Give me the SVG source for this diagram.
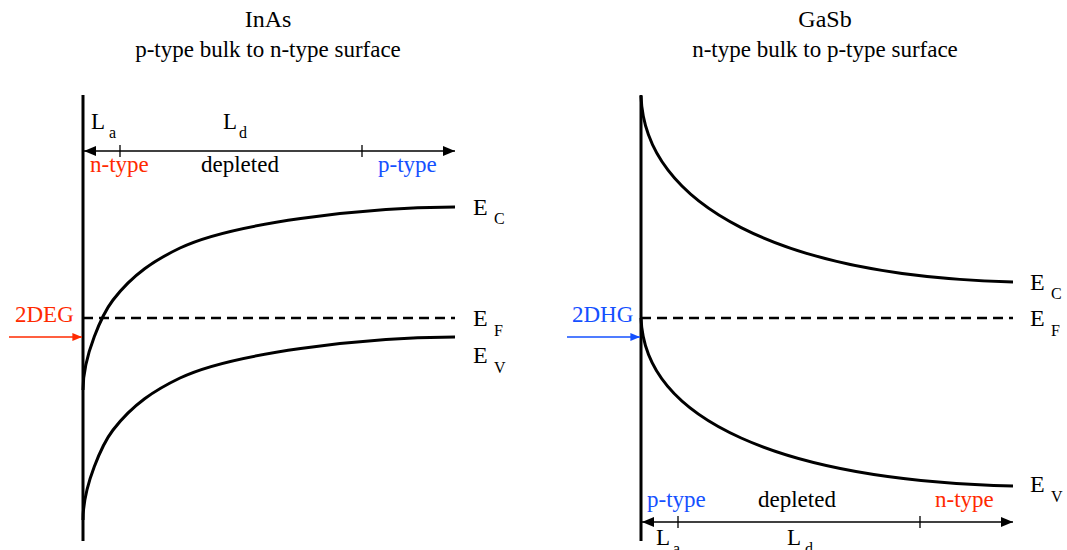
<svg xmlns="http://www.w3.org/2000/svg" width="1067" height="550" viewBox="0 0 1067 550" font-family="'Liberation Serif', 'DejaVu Serif', 'Times New Roman', serif">
<defs>
<style>
text{font-family:'Liberation Serif','DejaVu Serif','Times New Roman',serif;fill:#000}
.t{font-size:24px;text-anchor:middle}
.st{font-size:23px;text-anchor:middle}
.lb{font-size:23px}
.E{font-size:24px}
.sub{font-size:16px}
.red{fill:#ff2a00}
.blue{fill:#1450ff}
.axis{stroke:#000;stroke-width:3;fill:none}
.band{stroke:#000;stroke-width:3;fill:none}
.ef{stroke:#000;stroke-width:2.5;stroke-dasharray:10,6;fill:none}
.dim{stroke:#000;stroke-width:1.3;fill:none;marker-start:url(#ah);marker-end:url(#ah)}
.tick{stroke:#000;stroke-width:1.3}
</style>
<marker id="ah" viewBox="0 0 12 10" refX="12" refY="5" markerWidth="12" markerHeight="10" markerUnits="userSpaceOnUse" orient="auto-start-reverse"><path d="M0,0L12,5L0,10z" fill="#000"/></marker>
<marker id="ahr" viewBox="0 0 12 10" refX="12" refY="5" markerWidth="12" markerHeight="8" markerUnits="userSpaceOnUse" orient="auto"><path d="M0,0L12,5L0,10z" fill="#ff2a00"/></marker>
<marker id="ahb" viewBox="0 0 12 10" refX="12" refY="5" markerWidth="12" markerHeight="8" markerUnits="userSpaceOnUse" orient="auto"><path d="M0,0L12,5L0,10z" fill="#1450ff"/></marker>
</defs>
<rect width="1067" height="550" fill="#fff"/>

<g id="inas">
<text class="t" x="268" y="27">InAs</text>
<text class="st" x="268" y="57">p-type bulk to n-type surface</text>
<line class="axis" x1="83" y1="95" x2="83" y2="541"/>
<path class="band" d="M83,390 C83,355 103,313 113,300 C133,274 155,260 180,248 C230,224 360,207 455,207"/>
<path class="band" d="M83,520 C83,485 103,443 113,430 C133,404 155,390 180,378 C230,354 360,337 455,337"/>
<line class="ef" x1="83" y1="318" x2="455" y2="318"/>
<text class="lb" x="91" y="129">L</text><text class="sub" x="109" y="138">a</text>
<text class="lb" x="223" y="129">L</text><text class="sub" x="239" y="138">d</text>
<text class="lb red" x="90" y="172">n-type</text>
<text class="lb" x="201" y="172">depleted</text>
<text class="lb blue" x="378" y="172">p-type</text>
<text class="E" x="473" y="215">E</text><text class="sub" x="494" y="224">C</text>
<text class="E" x="473" y="326">E</text><text class="sub" x="494" y="336">F</text>
<text class="E" x="473" y="363">E</text><text class="sub" x="494" y="373">V</text>
<text class="lb red" x="15" y="322">2DEG</text>
</g>

<g id="gasb">
<text class="t" x="825" y="27">GaSb</text>
<text class="st" x="825" y="57">n-type bulk to p-type surface</text>
<line class="axis" x1="641" y1="95" x2="641" y2="541"/>
<path class="band" d="M641,96 C645,205 780,276 1013,282"/>
<path class="band" d="M641,318 C645,420 780,480 1013,486"/>
<line class="ef" x1="641" y1="318" x2="1013" y2="318"/>
<text class="lb blue" x="647" y="507">p-type</text>
<text class="lb" x="758" y="507">depleted</text>
<text class="lb red" x="935" y="507">n-type</text>
<text class="lb" x="656" y="545">L</text><text class="sub" x="673" y="554">a</text>
<text class="lb" x="787" y="545">L</text><text class="sub" x="805" y="554">d</text>
<text class="E" x="1030" y="290">E</text><text class="sub" x="1051" y="299">C</text>
<text class="E" x="1030" y="326">E</text><text class="sub" x="1051" y="336">F</text>
<text class="E" x="1030" y="492">E</text><text class="sub" x="1051" y="502">V</text>
<text class="lb blue" x="572" y="322">2DHG</text>
</g>

<g id="connectors">
<line class="dim" x1="84" y1="151" x2="455" y2="151"/>
<line class="tick" x1="120" y1="145" x2="120" y2="157"/>
<line class="tick" x1="362" y1="145" x2="362" y2="157"/>
<line class="dim" x1="642" y1="522" x2="1013" y2="522"/>
<line class="tick" x1="678" y1="516" x2="678" y2="528"/>
<line class="tick" x1="920" y1="516" x2="920" y2="528"/>
<line x1="9" y1="337" x2="82" y2="337" stroke="#ff2a00" stroke-width="1.5" marker-end="url(#ahr)"/>
<line x1="567" y1="337" x2="640" y2="337" stroke="#1450ff" stroke-width="1.5" marker-end="url(#ahb)"/>
</g>
</svg>
